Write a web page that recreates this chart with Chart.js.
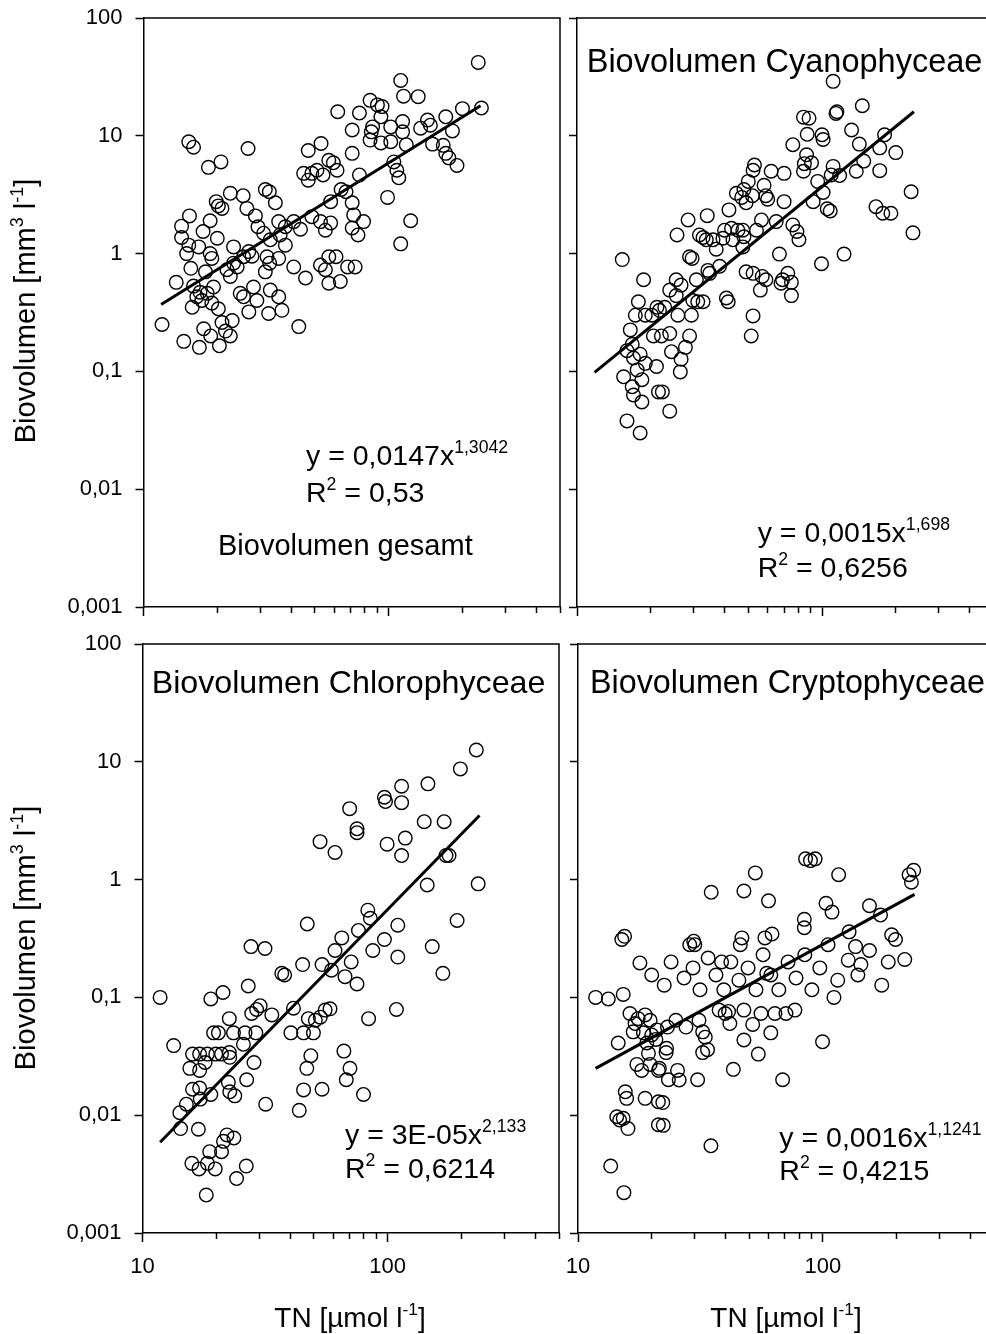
<!DOCTYPE html>
<html>
<head>
<meta charset="utf-8">
<script src="https://cdn.jsdelivr.net/npm/chart.js@4/dist/chart.umd.min.js"></script>
<style>
html,body{margin:0;padding:0;background:#fff;overflow:hidden;width:986px;height:1334px;}
canvas{position:absolute;left:0;top:0;}
</style>
</head>
<body>
<canvas id="c1"></canvas>
<canvas id="c2"></canvas>
<canvas id="c3"></canvas>
<canvas id="c4"></canvas>
<script>
// ---------- data ----------
const xMajorTicks = [10, 100];
const xMajorLabels = ['10', '100'];
const xMinorTicks = [20, 30, 40, 50, 60, 70, 80, 90, 200, 300, 400, 500];
const yTicks = [0.001, 0.01, 0.1, 1, 10, 100];
const yTickLabels = ['0,001', '0,01', '0,1', '1', '10', '100'];

// regression line end points (TN, Biovolumen)
const trendTN = [11.8, 237];
const trendGesamt = [0.37, 18];
const trendCyano = [0.098, 16];
const trendChloro = [0.0059, 3.5];
const trendCrypto = [0.025, 0.75];

// [TN µmol/l, Biovolumen mm³/l]
const gesamtPoints = [[232,42],[239,17.2],[200,17],[112,29.5],[115,21.7],[132,21.5],[84,20],[90,18.3],[94,17.7],[62,16],[76,15.6],[93,14.5],[171,14.5],[144,13.6],[135,11.6],[148,12.3],[182,11],[114,13.2],[86,11.9],[102,11.9],[71,11.2],[85,10.8],[114,10.8],[84,9.2],[93,8.7],[102,8.9],[118,8.4],[151,8.5],[167,8.3],[171,7.1],[176,6.5],[190,5.6],[71,7.1],[105,6],[108,5.1],[110,4.4],[59.5,5.9],[61.6,5.1],[76,4.65],[67,3.35],[64,3.5],[99,3],[71,2.7],[72,2.13],[79,1.87],[123,1.9],[71,1.65],[75,1.44],[112,1.21],[61,0.94],[68,0.77],[73,0.77],[63.5,0.58],[58,2.76],[58,1.82],
[15.3,8.9],[16,8],[26.7,7.8],[18.4,5.4],[20.7,6],[47,7.5],[53,8.6],[57,6.2],[45,4.8],[48.6,4.8],[51,5.1],[54,4.65],[47,4.2],[22.6,3.25],[25.5,3.1],[31.4,3.5],[32.6,3.35],[34.5,2.7],[19.8,2.76],[20.2,2.54],[20.9,2.42],[26.4,2.42],[28.6,2.09],[15.4,2.09],[14.3,1.71],[18.7,1.9],[17.5,1.54],[14.3,1.37],[15.3,1.18],[20,1.35],[29.3,1.69],[30.9,1.49],[35.6,1.87],[37.9,1.69],[41,1.87],[43.7,1.61],[48.6,2.06],[52.7,1.87],[55.2,1.58],[36.1,1.44],[32.9,1.31],[37.9,1.18],[23.3,1.14],[26.9,1.04],[25.6,0.94],[27.7,0.95],[16.8,1.14],[15,1],[18.7,1],[19,0.91],[23.3,0.83],[21.9,0.73],[22.6,0.64],[24.1,0.77],[31.9,0.94],[32.7,0.83],[31.4,0.7],[35.6,0.91],[15.6,0.75],[17.9,0.7],[13.6,0.57],[16,0.53],[17,0.47],[18.2,0.46],[19.3,0.52],[16.5,0.43],[17.3,0.4],[24.8,0.46],[25.6,0.43],[28.1,0.52],[29,0.4],[32.9,0.49],[35.6,0.43],[32.4,0.31],[36.7,0.33],[41,0.77],[45.8,0.62],[52.7,0.8],[55.2,0.73],[57,0.56],[57,0.94],[15.8,0.35],[20.2,0.34],[19,0.38],[26.9,0.32],[11.9,0.25],[43,0.24],[20.9,0.26],[23,0.27],[14.6,0.18],[16.9,0.16],[18.8,0.2],[20.4,0.165],[22.6,0.2],[21.6,0.22],[17.6,0.23]];

const cyanoPoints = [[15.3,0.89],[18.7,0.6],[17.8,0.39],[17.3,0.3],[19,0.3],[20.2,0.3],[21.2,0.35],
[111,29],[115,16],[114,15.5],[146,18],[84,14.4],[88.5,14.1],[87,10.3],[100,10.2],[101,9.3],[132,11.2],[76,8.4],[142,8.5],[180,10.2],[172,7.9],[200,7.2],[86.5,6.9],[90.6,5.9],[84.7,5.8],[53,5.65],[52.3,5.1],[62,5],[70,4.8],[84,5],[111,5.5],[109,4.65],[118,4.6],[138,5],[148,6.1],[172,5.06],[96,4.1],[50,4.1],[58,3.8],[48,3.5],[44.7,3.25],[47,3],[52,3.1],[59,3.1],[60,2.9],[49,2.7],[70,2.76],[92,2.76],[101,3.3],[105,2.4],[108,2.3],[166,2.5],[177,2.2],[191,2.2],[231,3.35],[235,1.5],[41.7,2.35],[34,2.1],[28.4,1.93],[25.6,1.44],[31.6,1.44],[32.7,1.37],[33.7,1.31],[35.9,1.31],[40,1.58],[42.7,1.64],[45.4,1.58],[47.5,1.58],[54,1.58],[39.4,1.35],[43.3,1.31],[48,1.39],[56.6,1.93],[65,1.87],[76,1.75],[79,1.54],[80.5,1.31],[37,1.09],[47.5,1.14],[28.8,0.94],[29.5,0.91],[67,0.99],[99.5,0.82],[123,0.99],[34.2,0.72],[38.2,0.78],[34.8,0.68],[49,0.7],[52.3,0.68],[57,0.64],[59,0.6],[69,0.6],[72.5,0.68],[75,0.57],[68,0.56],[56,0.49],[75,0.44],[25.4,0.6],[26.6,0.54],[30.7,0.6],[23.9,0.49],[25.4,0.44],[22.8,0.35],[21.7,0.33],[29.7,0.4],[31.1,0.39],[32.7,0.39],[40.7,0.42],[41.4,0.39],[25.8,0.3],[29.3,0.3],[52.3,0.296],
[16,0.15],[17,0.13],[18.1,0.14],[19,0.117],[17.6,0.103],[15.5,0.09],[18.4,0.085],[16.8,0.074],[17,0.063],[18.4,0.055],[16,0.038],[18.1,0.03],[21.5,0.067],[20.5,0.2],[16.8,0.17],[22.1,0.2],[23.9,0.21],[28.8,0.2],[27.7,0.16],[24.3,0.147],[26.6,0.127],[26.4,0.099],[22.3,0.067],[23.9,0.046],[51.4,0.2],[21.1,0.11],[16.5,0.225]];

const chloroPoints = [[11.8,0.1],[19,0.097],[22.6,0.066],[20.4,0.05],[19.5,0.05],[23.5,0.05],[26.2,0.05],[29,0.05],[25.8,0.04],[13.4,0.039],[16,0.033],[17.1,0.033],[18.4,0.033],[19.9,0.033],[21,0.033],[22.6,0.034],[22.7,0.031],[18,0.028],[15.6,0.025],[17.1,0.024],[28.5,0.028],[26.6,0.02],[22.4,0.019],[16,0.0166],[17.1,0.017],[22.7,0.0158],[23.8,0.0146],[19,0.015],[15.1,0.0124],[17.2,0.0137],[14.2,0.0105],[31.8,0.0124],[14.3,0.0077],[16.9,0.0076],[22.1,0.0068],[23.6,0.0064],[21.4,0.006],[18.8,0.0049],[21,0.0049],[15.9,0.0039],[17,0.0035],[18.4,0.0039],[19.8,0.0035],[26.5,0.0037],[24.2,0.0029],[18.2,0.0021],[33.7,0.071],[29.2,0.079],[27.9,0.073],[30.2,0.085],[40.3,0.05],[45.4,0.05],[49.8,0.05],[47.5,0.066],[50.7,0.064],[53.1,0.068],[55.6,0.078],[41.3,0.081],[48.6,0.032],[46.8,0.025],[45.4,0.0164],[54,0.0166],[43.6,0.011],[108.6,0.079],[83.6,0.066],[66.3,0.035],[70.2,0.025],[67.8,0.02],[79.7,0.015],[58.2,0.08],
[230,12.6],[198,8.7],[146,6.5],[114,6.2],[114,4.5],[97,5],[98,4.6],[70,4],[75,2.7],[75,2.5],[170,3.1],[141,3.1],[173,1.6],[178,1.6],[61,1.7],[53,2.1],[99.5,2],[118,2.25],[234,0.92],[145,0.9],[114,1.6],[85,0.47],[83,0.55],[192,0.45],[110,0.41],[152,0.27],[110,0.22],[168,0.16],[76,0.37],[47,0.42],[65,0.32],[61,0.25],[97,0.31],[87,0.25],[71,0.2],[45,0.19],[54,0.19],[59,0.17],[67,0.15],[75,0.13],[37,0.16],[38,0.155],[31.6,0.26],[27.7,0.27],[27,0.125],[21.3,0.11]];

const cryptoPoints = [[11.8,0.1],[13.3,0.097],[14.6,0.041],[16.3,0.073],[17.1,0.06],[17.6,0.066],[16.8,0.051],[18.8,0.071],[19.7,0.064],[18.5,0.05],[20,0.048],[21,0.053],[19.1,0.041],[19.4,0.0335],[17.4,0.027],[18.2,0.024],[19.7,0.027],[21.3,0.024],[15.6,0.0158],[15.8,0.0139],[18.8,0.0139],[21.3,0.013],[14.4,0.0097],[14.8,0.0091],[15.3,0.0094],[16,0.0077],[21.3,0.0083],[13.6,0.0037],[15.4,0.0022],
[99.7,0.042],[111,0.1],[68.5,0.02],[43.1,0.0245],[54.5,0.033],[47.6,0.0435],[61.3,0.05],[51.7,0.059],[41.7,0.06],[39.9,0.073],[41.2,0.076],[37.7,0.078],[47.6,0.078],[55.9,0.073],[63.7,0.073],[70.7,0.073],[76.9,0.078],[32.3,0.051],[33.1,0.046],[33.8,0.036],[32.3,0.034],[30.8,0.02],[25.5,0.024],[23.4,0.02],[25.9,0.0199],[22.2,0.0128],[22.3,0.0082],[34.9,0.0055],[22.9,0.034],[23,0.037],[21.5,0.025],[20.8,0.044],[23.2,0.056],[25.1,0.064],[27.6,0.056],[31.2,0.064],
[85,1.5],[89,1.45],[93,1.5],[53,1.14],[116,1.1],[235,1.2],[225,1.1],[35,0.78],[47.6,0.8],[60,0.66],[103,0.63],[155,0.6],[172,0.5],[84,0.46],[84,0.39],[30,0.28],[46,0.28],[59,0.16],[38.6,0.2],[143,0.19],[185,0.2],[15.3,0.106],
[20,0.155],[22.5,0.127],[24,0.2],[27.1,0.146],[29.5,0.178],[31.5,0.116],[34,0.216],[36.6,0.155],[39.4,0.116],[42.1,0.2],[45.4,0.14],[49.5,0.178],[53.3,0.116],[57,0.23],[61.3,0.155],[66.1,0.116],[72.1,0.2],[77.7,0.146],[84.4,0.23],[90.2,0.116],[97.2,0.178],[105,0.28],[115,0.14],[127,0.207],[139,0.155],[155,0.25],[174,0.127],[198,0.31],[216,0.21],[28.6,0.28],[29.7,0.3],[15.1,0.31],[15.5,0.33],[46.7,0.32],[58,0.32],[62,0.345],[136,0.27],[128,0.36],[109,0.53],[191,0.34],[230,0.95],[17.9,0.196]];

// ---------- drawing ----------
const FONT = "'Liberation Sans', Arial, Helvetica, sans-serif";
const W = 1000, H = 1334;

function drawRich(ctx, parts, x, y, size, align) {
  const supSize = size * 0.62;
  const widths = parts.map(([t, sup]) => {
    ctx.font = (sup ? supSize : size) + 'px ' + FONT;
    return ctx.measureText(t).width;
  });
  const total = widths.reduce((a, b) => a + b, 0);
  let cx = align === 'center' ? x - total / 2 : x;
  ctx.textAlign = 'left';
  ctx.textBaseline = 'alphabetic';
  parts.forEach(([t, sup], i) => {
    ctx.font = (sup ? supSize : size) + 'px ' + FONT;
    ctx.fillText(t, cx, sup ? y - size * 0.42 : y);
    cx += widths[i];
  });
}

function decoPlugin(p) {
  return {
    id: 'deco_' + p.id,
    afterDraw(chart) {
      const ctx = chart.ctx;
      const {left, top, right, bottom} = chart.chartArea;
      ctx.save();
      ctx.strokeStyle = '#000';
      ctx.lineWidth = 1.5;
      ctx.beginPath();
      ctx.moveTo(left, top);
      ctx.lineTo(p.rightBorder ? right : W, top);
      if (p.rightBorder) ctx.lineTo(right, bottom);
      ctx.stroke();
      ctx.fillStyle = '#000';
      p.texts.forEach(t => {
        if (t.rotate) {
          ctx.save();
          ctx.translate(t.x, t.y);
          ctx.rotate(-Math.PI / 2);
          drawRich(ctx, t.parts, 0, 0, t.size, t.align);
          ctx.restore();
        } else {
          drawRich(ctx, t.parts, t.x, t.y, t.size, t.align);
        }
      });
      ctx.restore();
    }
  };
}

const yTitle = [['Biovolumen [mm', false], ['3', true], [' l', false], ['-1', true], [']', false]];
const xTitle = [['TN [µmol l', false], ['-1', true], [']', false]];

const panels = [
  {id: 'c1', pts: gesamtPoints, trend: trendGesamt, area: {l: 143.5, t: 18, r: 560, b: 607}, yLabels: true, xLabels: false, rightBorder: true,
   texts: [
     {parts: [['y = 0,0147x', false], ['1,3042', true]], x: 306, y: 465, size: 28.5},
     {parts: [['R', false], ['2', true], [' = 0,53', false]], x: 306, y: 501.7, size: 28.5},
     {parts: [['Biovolumen gesamt', false]], x: 218, y: 555, size: 29},
     {parts: yTitle, x: 35, y: 311, size: 29, align: 'center', rotate: true}
   ]},
  {id: 'c2', pts: cyanoPoints, trend: trendCyano, area: {l: 577, t: 18, r: 993.3, b: 607}, yLabels: false, xLabels: false, rightBorder: false,
   texts: [
     {parts: [['Biovolumen Cyanophyceae', false]], x: 586.7, y: 71.7, size: 32.5},
     {parts: [['y = 0,0015x', false], ['1,698', true]], x: 757.7, y: 542.3, size: 28.5},
     {parts: [['R', false], ['2', true], [' = 0,6256', false]], x: 757.7, y: 577.3, size: 28.5}
   ]},
  {id: 'c3', pts: chloroPoints, trend: trendChloro, area: {l: 142.5, t: 644, r: 559, b: 1233}, yLabels: true, xLabels: true, rightBorder: true,
   texts: [
     {parts: [['Biovolumen Chlorophyceae', false]], x: 151.7, y: 693.3, size: 32.2},
     {parts: [['y = 3E-05x', false], ['2,133', true]], x: 345, y: 1144, size: 28.5},
     {parts: [['R', false], ['2', true], [' = 0,6214', false]], x: 345, y: 1178.3, size: 28.5},
     {parts: yTitle, x: 35, y: 938, size: 29, align: 'center', rotate: true},
     {parts: xTitle, x: 350, y: 1327, size: 28, align: 'center'}
   ]},
  {id: 'c4', pts: cryptoPoints, trend: trendCrypto, area: {l: 578, t: 644, r: 994, b: 1233}, yLabels: false, xLabels: true, rightBorder: false,
   texts: [
     {parts: [['Biovolumen Cryptophyceae', false]], x: 590, y: 693.3, size: 32.3},
     {parts: [['y = 0,0016x', false], ['1,1241', true]], x: 779.3, y: 1146.7, size: 28.5},
     {parts: [['R', false], ['2', true], [' = 0,4215', false]], x: 779.3, y: 1180, size: 28.5},
     {parts: xTitle, x: 786, y: 1327, size: 28, align: 'center'}
   ]}
];

const tickGrid = (len) => ({display: true, drawOnChartArea: false, drawTicks: true, tickLength: len, tickColor: '#000', tickWidth: 1.5});

panels.forEach(p => {
  const cv = document.getElementById(p.id);
  cv.width = W; cv.height = H;
  cv.style.width = W + 'px'; cv.style.height = H + 'px';
  const scatter = p.pts.map(([x, y]) => ({x, y}));
  const line = trendTN.map((x, i) => ({x, y: p.trend[i]}));
  new Chart(cv, {
    type: 'scatter',
    data: {datasets: [
      {data: line, showLine: true, borderColor: '#000', borderWidth: 3, pointRadius: 0, pointHoverRadius: 0, xAxisID: 'x', yAxisID: 'y'},
      {data: scatter, pointRadius: 6.8, pointHoverRadius: 6.8, borderWidth: 1.4, borderColor: '#000', backgroundColor: 'rgba(0,0,0,0)', xAxisID: 'x', yAxisID: 'y'}
    ]},
    options: {
      responsive: false, animation: false, devicePixelRatio: 1, events: [],
      layout: {autoPadding: false, padding: {left: 0, top: p.area.t, right: W - p.area.r, bottom: 0}},
      plugins: {legend: {display: false}, tooltip: {enabled: false}},
      scales: {
        x: {type: 'logarithmic', position: 'bottom', min: 10, max: 500,
          afterBuildTicks: s => { s.ticks = xMajorTicks.map(v => ({value: v})); },
          afterFit: s => { s.height = H - p.area.b; s.paddingLeft = 0; s.paddingRight = 0; },
          ticks: {display: p.xLabels, autoSkip: false, maxRotation: 0, padding: 12, color: '#000', font: {family: FONT, size: 22}, callback: (v, i) => xMajorLabels[i]},
          grid: tickGrid(9),
          border: {display: true, color: '#000', width: 1.5}},
        x2: {type: 'logarithmic', axis: 'x', position: {y: 0.001}, min: 10, max: 500,
          afterBuildTicks: s => { s.ticks = xMinorTicks.map(v => ({value: v})); },
          ticks: {display: false, autoSkip: false},
          grid: tickGrid(6),
          border: {display: false}},
        y: {type: 'logarithmic', position: 'left', min: 0.001, max: 100,
          afterBuildTicks: s => { s.ticks = yTicks.map(v => ({value: v})); },
          afterFit: s => { s.width = p.area.l; s.paddingTop = 0; s.paddingBottom = 0; },
          ticks: {display: p.yLabels, autoSkip: false, padding: 13, color: '#000', font: {family: FONT, size: 22}, callback: (v, i) => yTickLabels[i]},
          grid: tickGrid(8),
          border: {display: true, color: '#000', width: 1.5}}
      }
    },
    plugins: [decoPlugin(p)]
  });
});
</script>
</body>
</html>
